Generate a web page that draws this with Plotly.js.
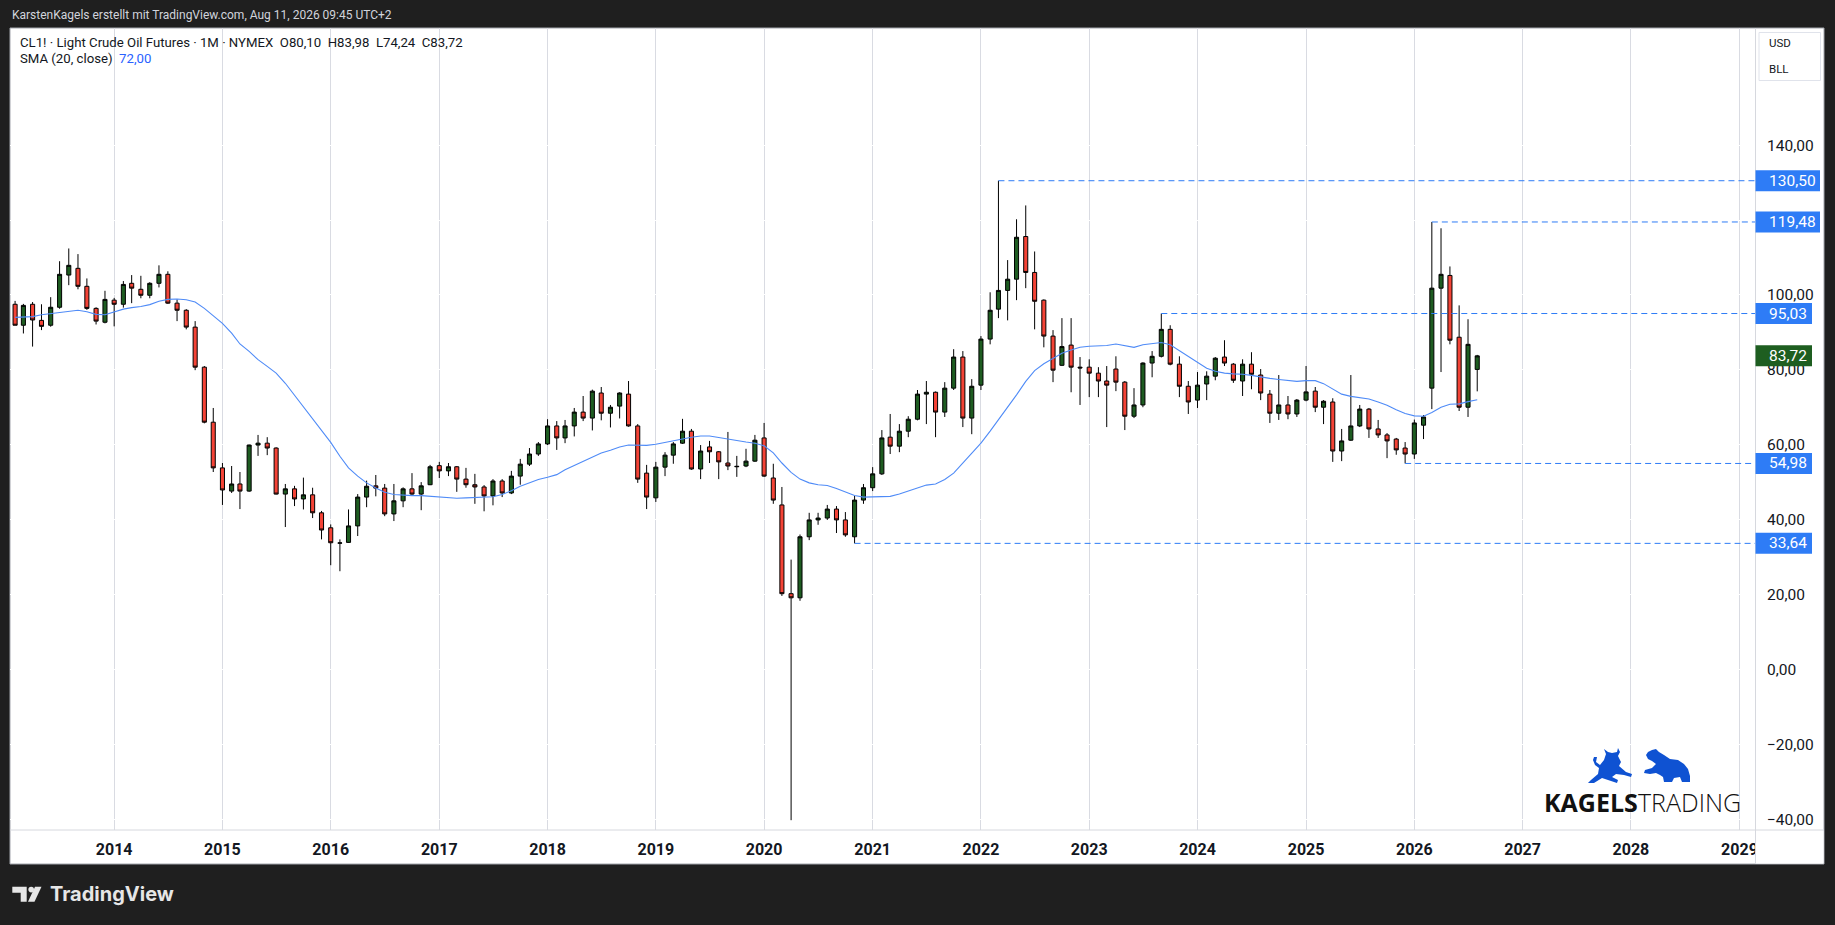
<!DOCTYPE html>
<html><head><meta charset="utf-8">
<script src="https://cdn.plot.ly/plotly-3.0.1.min.js"></script>
<style>html,body{margin:0;padding:0;background:#1f1f1f;overflow:hidden}#chart{width:1835px;height:925px}</style>
</head><body><div id="chart"></div>
<script>
// ---------------- DATA (monthly CL1!, first bar Feb 2013) ----------------
const firstMonth = '2013-02';
const opens = [
 97.5,91.9,97.5,93.2,91.9,96.7,105.3,107.1,102.3,96.4,92.7,
 98.6,97.5,103.1,101.5,99.9,103.1,105.5,97.8,95.9,91.4,80.7,66.0,
 53.8,47.6,49.5,47.6,59.9,60.4,59.1,46.8,48.2,45.5,46.6,41.8,
 37.8,33.7,33.9,38.3,46.0,49.0,48.4,41.5,45.0,48.2,46.8,49.3,
 54.4,53.0,54.1,50.8,49.3,48.7,46.3,50.3,47.1,51.6,54.8,57.5,
 60.2,65.0,61.8,65.0,68.7,67.1,73.8,68.4,70.3,73.5,65.0,52.4,
 45.8,54.0,57.2,60.4,63.6,53.5,59.4,58.1,55.1,54.1,54.3,55.6,
 61.8,51.1,43.9,20.2,19.1,35.4,39.9,40.4,42.8,39.9,35.4,45.2,
 48.5,52.2,62.0,59.6,63.6,66.8,73.5,74.0,68.7,75.1,83.4,67.1,
 75.9,88.2,96.2,101.2,104.2,115.6,106.0,98.6,89.0,81.2,86.6,80.7,
 80.7,79.1,77.0,80.2,76.7,67.6,70.6,81.8,83.6,90.8,81.5,75.6,
 71.9,76.2,78.3,83.4,81.5,77.0,81.5,78.6,73.5,68.4,70.6,68.2,
 71.9,74.3,70.0,71.4,58.3,61.2,65.0,69.5,64.2,62.6,61.5,59.1,
 57.5,65.2,75.1,101.8,105.2,88.7,70.0,80.10];
const highs = [
 98.4,97.6,98.1,97.5,99.4,109.0,112.4,110.9,104.4,96.7,101.1,
 99.2,103.7,105.3,105.1,103.4,107.9,106.3,98.8,96.2,93.0,81.0,69.8,
 55.1,54.3,52.7,60.0,62.6,62.0,59.3,49.5,49.0,51.2,48.5,42.3,
 38.7,34.7,42.7,46.8,50.4,51.9,49.5,49.5,48.6,52.4,50.0,54.6,
 55.4,55.1,54.3,53.8,52.2,49.2,50.8,50.8,53.0,56.2,59.1,60.7,
 66.8,66.3,66.6,69.8,73.0,74.7,75.4,70.6,74.0,77.0,65.5,54.6,
 55.4,58.0,60.7,66.9,64.2,59.9,61.0,58.3,63.4,57.0,58.9,62.6,
 65.8,54.9,48.7,29.3,36.0,41.8,41.8,43.9,43.6,42.0,46.3,49.5,
 54.0,63.9,68.2,65.5,67.6,74.6,77.0,74.2,76.7,85.5,85.0,77.5,
 89.0,100.7,130.5,109.3,120.2,123.9,111.6,98.8,90.6,93.8,93.8,83.4,
 82.8,80.7,81.0,83.6,77.0,75.1,82.0,85.0,95.03,91.9,83.6,77.0,
 79.4,79.6,83.4,87.9,81.8,82.8,84.7,80.2,74.6,78.6,73.0,72.2,
 81.0,75.4,71.9,72.4,64.2,78.6,70.6,69.8,66.6,63.1,61.8,60.7,
 66.7,67.9,119.48,117.8,107.6,97.2,93.5,83.98];
const lows = [
 91.9,89.7,86.2,90.6,91.5,96.3,102.6,101.5,96.0,92.1,92.4,
 91.6,96.6,97.8,99.1,99.1,102.0,97.6,93.0,90.8,79.9,65.7,52.7,
 43.9,47.1,42.8,47.4,57.0,57.2,46.7,38.0,43.6,42.7,40.4,34.7,
 27.8,26.2,33.8,35.6,43.3,46.2,40.9,39.6,43.3,46.6,42.5,49.2,
 51.1,51.6,47.4,48.5,44.2,42.2,43.8,46.0,46.8,49.3,54.3,57.0,
 59.9,58.6,60.4,62.2,66.3,63.8,66.5,64.6,67.0,64.8,49.8,42.8,
 44.7,51.6,54.9,60.2,53.3,50.8,55.1,50.8,53.2,51.4,54.0,55.4,
 51.4,44.2,19.6,-40.3,18.3,34.5,38.6,39.9,36.4,35.4,33.64,44.2,
 47.6,51.9,57.5,58.0,62.0,66.5,65.5,62.0,67.4,74.6,64.7,62.8,
 74.6,86.8,93.8,93.2,98.6,101.8,90.8,86.0,76.7,81.0,74.0,70.6,
 72.7,72.7,64.7,74.3,63.9,67.1,70.0,78.0,83.3,81.2,72.7,68.2,
 69.8,71.9,77.2,81.0,76.5,73.0,74.8,71.9,65.8,66.6,66.8,67.4,
 71.6,68.7,65.5,55.4,55.6,61.0,64.7,61.8,61.8,56.4,57.3,54.98,
 56.2,61.5,69.5,79.4,86.8,69.0,67.4,74.24];
const closes = [
 91.9,97.2,93.3,91.6,96.7,105.5,107.9,102.3,96.4,93.0,98.8,
 97.5,102.8,101.8,99.9,103.1,105.5,97.8,95.9,91.4,80.7,66.0,53.8,
 47.9,49.5,47.6,59.9,60.4,59.1,46.8,48.2,45.5,46.6,41.8,37.2,
 33.8,33.75,38.3,46.0,48.9,48.4,41.5,45.0,48.2,46.8,49.0,54.1,
 53.0,54.1,50.8,49.3,48.7,46.3,50.3,47.1,51.6,54.8,57.5,60.2,
 65.0,61.8,65.0,68.7,67.1,74.3,68.4,70.0,73.8,65.0,50.8,46.0,
 54.0,57.2,60.2,63.6,53.5,58.3,58.1,55.4,54.3,54.2,55.6,61.2,
 51.6,45.2,20.2,19.1,35.4,39.9,40.4,42.8,39.9,35.9,45.2,48.5,
 52.2,61.8,59.6,63.6,66.8,73.5,74.0,68.7,75.1,83.4,67.1,75.6,
 88.2,95.9,101.2,104.2,115.4,106.0,98.3,89.0,79.9,86.2,80.7,80.5,
 79.1,77.0,75.9,76.7,67.6,70.6,81.8,83.6,90.8,81.5,75.6,71.4,
 75.9,78.3,83.1,81.8,77.2,81.5,78.8,73.8,68.4,70.6,68.2,71.9,
 74.1,70.0,71.6,58.3,61.0,65.0,69.5,64.2,62.6,61.0,58.6,57.5,
 65.8,67.4,101.8,105.5,87.9,70.0,86.8,83.72];
const sma20 = [
 94.0,94.0,94.2,94.7,95.0,95.3,95.7,95.9,95.5,94.8,94.7,
 95.5,96.2,96.6,96.9,97.4,98.3,98.8,98.9,98.7,98.1,96.4,94.4,
 92.4,89.8,86.9,84.9,82.7,80.9,79.1,76.4,73.2,70.2,67.1,64.0,
 60.6,56.9,53.8,51.6,49.8,48.4,47.3,46.7,46.5,46.4,46.4,46.2,
 45.9,45.7,45.7,45.8,45.9,46.0,46.1,46.7,47.7,48.9,49.8,50.7,
 51.3,52.0,53.3,54.4,55.6,56.7,57.8,58.5,59.4,59.9,59.8,59.8,
 60.1,60.6,61.1,61.6,62.0,62.3,62.3,61.9,61.4,61.1,60.7,60.4,
 59.7,57.8,55.1,52.6,50.8,49.8,49.3,49.1,48.3,47.3,46.4,46.0,
 46.0,46.0,46.2,46.8,47.6,48.4,49.2,49.5,50.7,52.4,55.1,57.8,
 60.4,63.6,66.7,69.8,73.3,76.9,79.8,81.6,83.1,84.4,85.3,86.0,
 86.3,86.4,86.5,86.9,86.5,86.0,86.7,87.1,87.3,86.7,85.1,83.6,
 81.8,80.4,79.6,79.1,78.9,78.8,78.5,78.0,77.7,77.4,77.2,76.9,
 77.1,77.1,76.3,74.8,73.5,72.9,72.6,72.2,71.4,70.5,69.3,68.3,
 67.7,67.6,68.6,70.0,70.8,70.9,71.5,72.0];
const levels      = [130.50, 119.48, 95.03, 54.98, 33.64];
const levelLabels = ['130,50','119,48','95,03','54,98','33,64'];
const levelStarts = ['2022-03-01','2026-03-01','2023-09-01','2025-12-01','2020-11-01'];
const lastPrice = 83.72, lastPriceLabel = '83,72';
const yTicks = [-40,-20,0,20,40,60,80,100,120,140];
const headerText = 'KarstenKagels erstellt mit TradingView.com, Aug 11, 2026 09:45 UTC+2';
const legend1 = 'CL1! · Light Crude Oil Futures · 1M · NYMEX&nbsp; O80,10&nbsp; H83,98&nbsp; L74,24&nbsp; C83,72';
const legend2a = 'SMA (20, close)', legend2b = '72,00';

// ---------------- GEOMETRY ----------------
const W = 1835, H = 925, L = 10, R = 1755, T = 28, B = 830;
const PW = R - L, PH = B - T;
const yMin = -42.92, yMax = 171.29;
const xRange = ['2013-01-14 20:00', '2029-02-22 10:00'];
const px = p => (p - L) / PW;
const py = p => (B - p) / PH;
const yp = v => (v - yMin) / (yMax - yMin);

function monthDates(first, n) {
  const [y, m] = first.split('-').map(Number);
  const out = [];
  for (let i = 0; i < n; i++) {
    const t = (m - 1) + i;
    out.push((y + Math.floor(t / 12)) + '-' + String(t % 12 + 1).padStart(2, '0') + '-01');
  }
  return out;
}
const dates = monthDates(firstMonth, closes.length);

const FONT = 'Roboto, "Noto Sans", sans-serif';
const BLUE = '#2e7cf6';

const shapes = [];
const annotations = [];

// white chart panel with thin border
shapes.push({type:'rect', xref:'paper', yref:'paper', layer:'below',
  x0:px(10), x1:px(1824), y0:py(864), y1:py(28),
  fillcolor:'#ffffff', line:{color:'#a3a6ad', width:1}});

// dashed horizontal level lines
levels.forEach((lv, i) => {
  shapes.push({type:'line', xref:'x', yref:'y', x0:levelStarts[i], x1:xRange[1], y0:lv, y1:lv,
    line:{color:BLUE, width:1, dash:'6px,4px'}});
});

// cover for the clipped 2029 label under the price scale
shapes.push({type:'rect', xref:'paper', yref:'paper', layer:'above',
  x0:px(1755.5), x1:px(1823.5), y0:py(863.5), y1:py(830.5), fillcolor:'#ffffff', line:{width:0}});
// USD / BLL box
shapes.push({type:'rect', xref:'paper', yref:'paper', layer:'above',
  x0:px(1759), x1:px(1820.5), y0:py(80.5), y1:py(32.5), fillcolor:'#ffffff', line:{color:'#e0e3eb', width:1}});
// separators
shapes.push({type:'line', xref:'paper', yref:'paper', layer:'above',
  x0:px(1755.5), x1:px(1755.5), y0:py(864), y1:py(28), line:{color:'#d6d8de', width:1}});
shapes.push({type:'line', xref:'paper', yref:'paper', layer:'above',
  x0:px(10), x1:px(1824), y0:py(830), y1:py(830), line:{color:'#d6d8de', width:1}});

// price labels on the scale
function priceBox(v, label, color) {
  const w = label.length >= 6 ? 1820 : 1812;
  const c = yp(v), h = 10.5 / PH;
  shapes.push({type:'rect', xref:'paper', yref:'paper', layer:'above',
    x0:px(1755.5), x1:px(w), y0:c - h, y1:c + h, fillcolor:color, line:{width:0}});
  annotations.push({xref:'paper', yref:'paper', x:px(1766.5), y:c, xanchor:'left', yanchor:'middle',
    showarrow:false, text:label, font:{family:FONT, size:15.5, color:'#ffffff'}});
}
levels.forEach((lv, i) => priceBox(lv, levelLabels[i], BLUE));
priceBox(lastPrice, lastPriceLabel, '#1e5e20');

// texts
function txt(t, x, y, size, color, extra) {
  annotations.push(Object.assign({xref:'paper', yref:'paper', x:px(x), y:py(y), xanchor:'left', yanchor:'middle',
    showarrow:false, text:t, font:{family:FONT, size:size, color:color}}, extra || {}));
}
txt(headerText, 10, 14.5, 12.0, '#d1d4dc');
txt(legend1, 17.5, 42.5, 13.2, '#131722');
txt(legend2a + '&nbsp; <span style="color:#2962ff">' + legend2b + '</span>', 17.5, 58.5, 13.2, '#131722');
txt('USD', 1767, 43.5, 11.5, '#131722');
txt('BLL', 1767, 68.5, 11.5, '#131722');
txt('<b>KAGELS</b>', 1541.5, 801.5, 25, '#111111', {font:{family:'"Open Sans", sans-serif', size:25, color:'#111111'}});
txt('TRADING', 1636, 801.5, 25, '#111111', {font:{family:'"Open Sans", sans-serif', size:25, color:'#111111', weight:300}});
txt('<b>TradingView</b>', 48, 894.5, 20, '#e6e6e6', {font:{family:'Inter, Roboto, sans-serif', size:20, color:'#e6e6e6'}});

// TradingView mark
function poly(pts, color, ox, oy) {
  const d = pts.map((p, i) => (i ? 'L' : 'M') + px(ox + p[0]).toFixed(6) + ',' + py(oy + p[1]).toFixed(6)).join(' ') + ' Z';
  shapes.push({type:'path', xref:'paper', yref:'paper', layer:'above', path:d, fillcolor:color, line:{width:0}});
}
poly([[0,0],[14.4,0],[14.4,15],[8.4,15],[8.4,6],[0,6]], '#e6e6e6', 12.3, 886.7);
shapes.push({type:'circle', xref:'paper', yref:'paper', layer:'above',
  x0:px(28.4), x1:px(34), y0:py(892.4), y1:py(886.8), fillcolor:'#e6e6e6', line:{width:0}});
poly([[22.7,0],[29.2,0],[22.2,15],[15.7,15]], '#e6e6e6', 12.3, 886.7);

// bull and bear marks
const LOGO = '#0f52d2';
poly([[6,9],[9,9],[8,14],[12,17],[16,12],[18,6],[16,1],[20,4],[24,5],[29,4],[30,0],[32,4],[30,8],[33,14],[31,18],
      [38,24],[44,26],[43,29],[36,27],[28,26],[24,29],[30,32],[29,35],[20,32],[14,30],[6,35],[0,35],[3,32],[10,26],
      [11,20],[7,17],[5,12]], LOGO, 1588, 748);
poly([[4,3],[8,1],[12,0],[15,3],[20,6],[26,10],[34,11],[40,15],[44,20],[46,27],[46,33],[38,33],[36,28],[30,29],
      [28,33],[20,33],[19,28],[16,26],[12,24],[6,25],[0,24],[1,21],[8,19],[12,15],[8,12],[4,10],[2,6]], LOGO, 1644, 749);

const traces = [
  {type:'candlestick', x:dates, open:opens, high:highs, low:lows, close:closes,
   increasing:{fillcolor:'#1e5c21', line:{color:'#000000', width:1}},
   decreasing:{fillcolor:'#f44336', line:{color:'#000000', width:1}},
   whiskerwidth:0, hoverinfo:'skip', showlegend:false},
  {type:'scatter', mode:'lines', x:dates, y:sma20, line:{color:'#4f8bf7', width:1.1},
   hoverinfo:'skip', showlegend:false}
];

const layout = {
  width:W, height:H,
  margin:{l:L, r:W - R, t:T, b:H - B, pad:0},
  paper_bgcolor:'#1f1f1f', plot_bgcolor:'#ffffff',
  separators:', ', showlegend:false, hovermode:false, dragmode:false,
  xaxis:{type:'date', range:xRange, rangeslider:{visible:false}, fixedrange:true,
    dtick:'M12', tick0:'2014-01-01', tickformat:'%Y', ticks:'', showline:false, zeroline:false,
    showgrid:true, gridcolor:'#d9dbe2', gridwidth:1, ticklabelstandoff:8,
    tickfont:{family:FONT, size:16, color:'#131722', weight:'bold'}},
  yaxis:{side:'right', range:[yMin, yMax], fixedrange:true, tickvals:yTicks, tickformat:'.2f',
    ticks:'', showline:false, zeroline:false, showgrid:true, gridcolor:'#ffffff', ticklabelstandoff:11,
    tickfont:{family:FONT, size:15.5, color:'#131722'}},
  shapes:shapes, annotations:annotations
};

Plotly.newPlot('chart', traces, layout, {displayModeBar:false, staticPlot:true});
</script></body></html>
